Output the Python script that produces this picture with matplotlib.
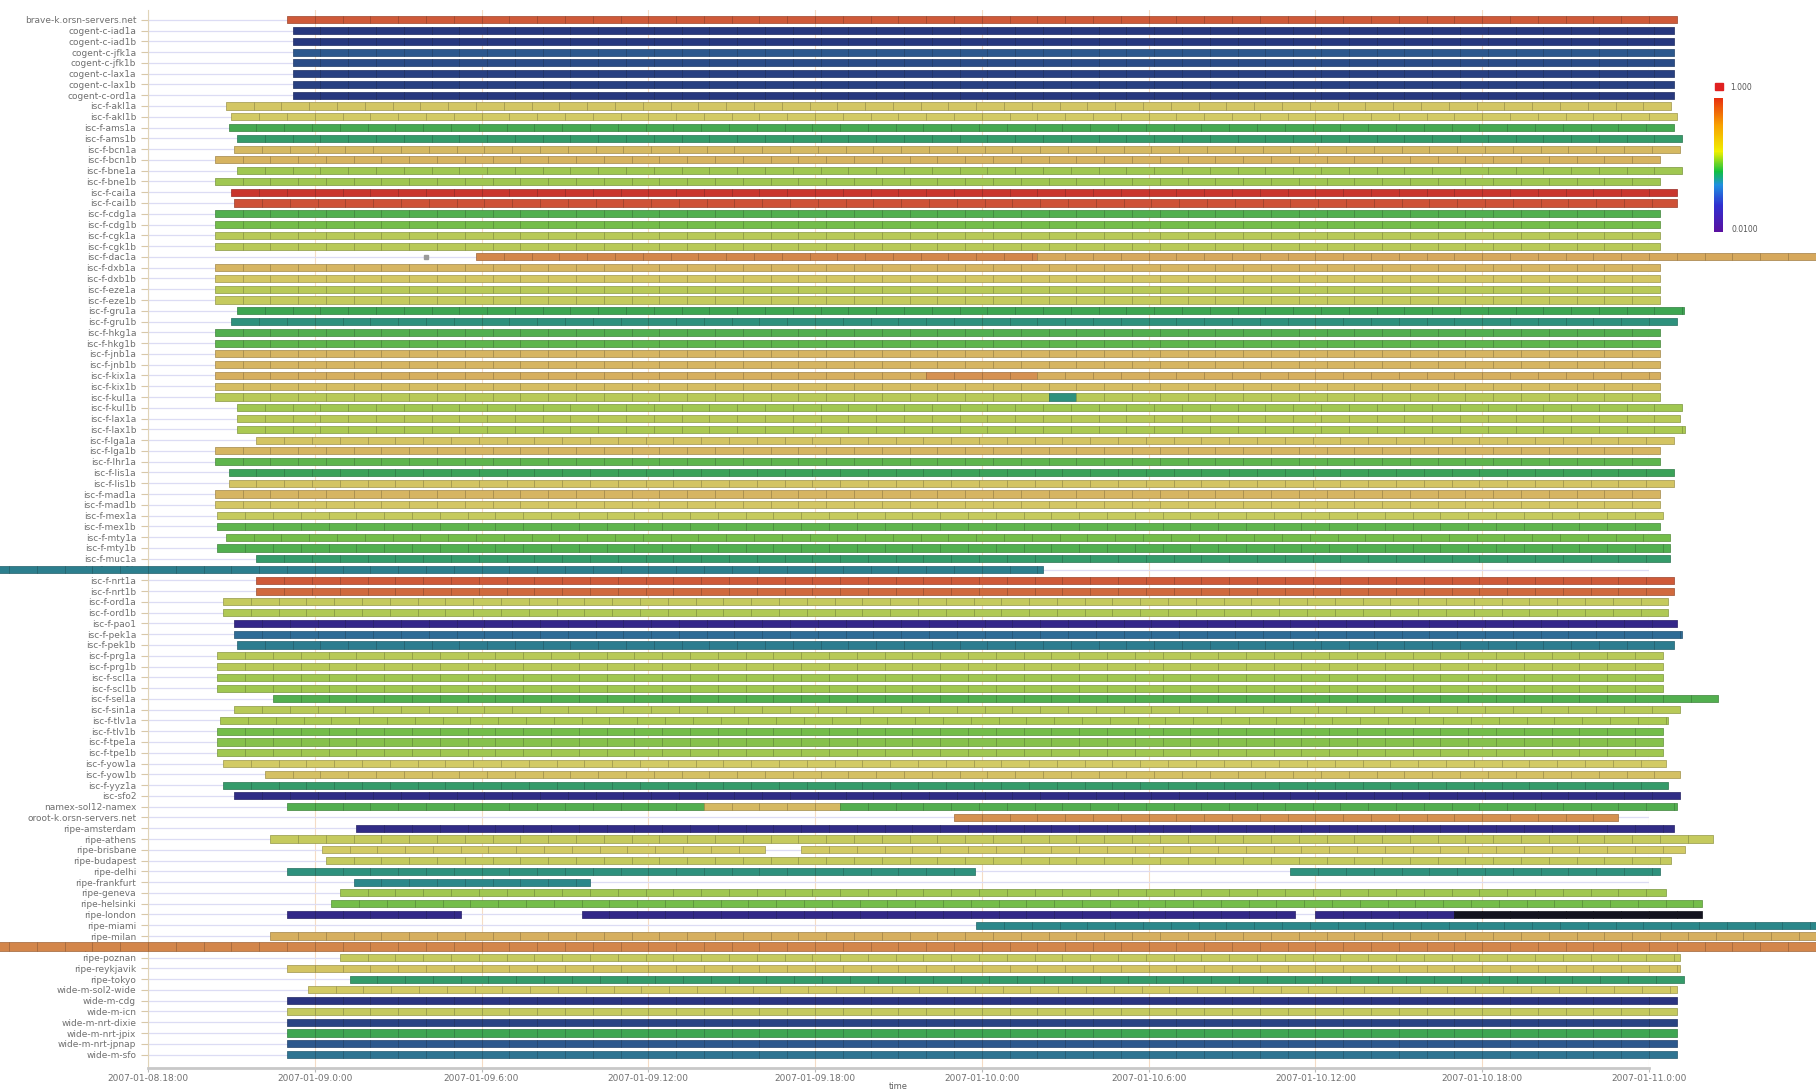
import numpy as np
import matplotlib
matplotlib.use("Agg")
import matplotlib.pyplot as plt
from matplotlib.colors import LinearSegmentedColormap, Normalize, to_rgb
from matplotlib.cm import ScalarMappable
from matplotlib.patches import Rectangle

# ===============================
# Data: hours relative to 2007-01-09 00:00
# ===============================
sites = [
    "brave-k.orsn-servers.net",
    "cogent-c-iad1a", "cogent-c-iad1b", "cogent-c-jfk1a", "cogent-c-jfk1b",
    "cogent-c-lax1a", "cogent-c-lax1b", "cogent-c-ord1a",
    "isc-f-akl1a", "isc-f-akl1b", "isc-f-ams1a", "isc-f-ams1b",
    "isc-f-bcn1a", "isc-f-bcn1b", "isc-f-bne1a", "isc-f-bne1b",
    "isc-f-cai1a", "isc-f-cai1b", "isc-f-cdg1a", "isc-f-cdg1b",
    "isc-f-cgk1a", "isc-f-cgk1b", "isc-f-dac1a", "isc-f-dxb1a",
    "isc-f-dxb1b", "isc-f-eze1a", "isc-f-eze1b", "isc-f-gru1a",
    "isc-f-gru1b", "isc-f-hkg1a", "isc-f-hkg1b", "isc-f-jnb1a",
    "isc-f-jnb1b", "isc-f-kix1a", "isc-f-kix1b", "isc-f-kul1a",
    "isc-f-kul1b", "isc-f-lax1a", "isc-f-lax1b", "isc-f-lga1a",
    "isc-f-lga1b", "isc-f-lhr1a", "isc-f-lis1a", "isc-f-lis1b",
    "isc-f-mad1a", "isc-f-mad1b", "isc-f-mex1a", "isc-f-mex1b",
    "isc-f-mty1a", "isc-f-mty1b", "isc-f-muc1a", "isc-f-muc1b",
    "isc-f-nrt1a", "isc-f-nrt1b", "isc-f-ord1a", "isc-f-ord1b",
    "isc-f-pao1", "isc-f-pek1a", "isc-f-pek1b", "isc-f-prg1a",
    "isc-f-prg1b", "isc-f-scl1a", "isc-f-scl1b", "isc-f-sel1a",
    "isc-f-sin1a", "isc-f-tlv1a", "isc-f-tlv1b", "isc-f-tpe1a",
    "isc-f-tpe1b", "isc-f-yow1a", "isc-f-yow1b", "isc-f-yyz1a",
    "isc-sfo2", "namex-sol12-namex", "oroot-k.orsn-servers.net",
    "ripe-amsterdam", "ripe-athens", "ripe-brisbane", "ripe-budapest",
    "ripe-delhi", "ripe-frankfurt", "ripe-geneva", "ripe-helsinki",
    "ripe-london", "ripe-miami", "ripe-milan", "ripe-moscow",
    "ripe-poznan", "ripe-reykjavik", "ripe-tokyo",
    "wide-m-sol2-wide", "wide-m-cdg", "wide-m-icn", "wide-m-nrt-dixie",
    "wide-m-nrt-jpix", "wide-m-nrt-jpnap", "wide-m-sfo",
]

# (start hour, end hour, value) per site; value -1 = below scale (black)
spans = [
    [(-1.0, 49.0, 0.88)],
    [(-0.8, 48.9, 0.12)], [(-0.8, 48.9, 0.12)], [(-0.8, 48.9, 0.2)],
    [(-0.8, 48.9, 0.17)], [(-0.8, 48.9, 0.14)], [(-0.8, 48.9, 0.14)],
    [(-0.8, 48.9, 0.12)],
    [(-3.2, 48.8, 0.63)], [(-3.0, 49.0, 0.62)], [(-3.1, 48.9, 0.43)],
    [(-2.8, 49.2, 0.38)],
    [(-2.9, 49.1, 0.67)], [(-3.6, 48.4, 0.69)], [(-2.8, 49.2, 0.55)],
    [(-3.6, 48.4, 0.55)],
    [(-3.0, 49.0, 0.96)], [(-2.9, 49.0, 0.9)], [(-3.6, 48.4, 0.45)],
    [(-3.6, 48.4, 0.5)],
    [(-3.6, 48.4, 0.58)], [(-3.6, 48.4, 0.58)],
    [(5.8, 26.0, 0.8), (26.0, 56.0, 0.72)],
    [(-3.6, 48.4, 0.68)],
    [(-3.6, 48.4, 0.63)], [(-3.6, 48.4, 0.58)], [(-3.6, 48.4, 0.6)],
    [(-2.8, 49.25, 0.42)],
    [(-3.0, 49.0, 0.35)], [(-3.6, 48.4, 0.45)], [(-3.6, 48.4, 0.47)],
    [(-3.6, 48.4, 0.68)],
    [(-3.6, 48.4, 0.68)], [(-3.6, 22.0, 0.7), (22.0, 26.0, 0.78), (26.0, 48.4, 0.7)],
    [(-3.6, 48.4, 0.66)],
    [(-3.6, 26.4, 0.58), (26.4, 27.4, 0.35), (27.4, 48.4, 0.58)],
    [(-2.8, 49.2, 0.55)], [(-2.8, 49.1, 0.58)], [(-2.8, 49.3, 0.56)],
    [(-2.1, 48.9, 0.64)],
    [(-3.6, 48.4, 0.68)], [(-3.6, 48.4, 0.47)], [(-3.1, 48.9, 0.41)],
    [(-3.1, 48.9, 0.64)],
    [(-3.6, 48.4, 0.68)], [(-3.6, 48.4, 0.63)], [(-3.5, 48.5, 0.6)],
    [(-3.5, 48.4, 0.47)],
    [(-3.2, 48.75, 0.5)], [(-3.5, 48.75, 0.45)], [(-2.1, 48.75, 0.38)],
    [(-12.0, 26.2, 0.3)],
    [(-2.1, 48.9, 0.88)], [(-2.1, 48.9, 0.85)], [(-3.3, 48.7, 0.6)],
    [(-3.3, 48.7, 0.57)],
    [(-2.9, 49.0, 0.04)], [(-2.9, 49.2, 0.25)], [(-2.8, 48.9, 0.29)],
    [(-3.5, 48.5, 0.58)],
    [(-3.5, 48.5, 0.58)], [(-3.5, 48.5, 0.55)], [(-3.5, 48.5, 0.55)],
    [(-1.5, 50.5, 0.45)],
    [(-2.9, 49.1, 0.58)], [(-3.4, 48.7, 0.56)], [(-3.5, 48.5, 0.5)],
    [(-3.5, 48.5, 0.52)],
    [(-3.5, 48.5, 0.55)], [(-3.3, 48.6, 0.62)], [(-1.8, 49.1, 0.65)],
    [(-3.3, 48.7, 0.38)],
    [(-2.9, 49.1, 0.07)],
    [(-1.0, 14.0, 0.45), (14.0, 18.9, 0.67), (18.9, 49.0, 0.45)],
    [(23.0, 46.9, 0.78)],
    [(1.5, 48.9, 0.06)], [(-1.6, 50.3, 0.6)],
    [(0.25, 16.2, 0.62), (17.5, 49.3, 0.62)],
    [(0.4, 48.8, 0.6)],
    [(-1.0, 23.75, 0.35), (35.1, 48.4, 0.35)],
    [(1.4, 9.9, 0.32)], [(0.9, 48.6, 0.55)], [(0.6, 49.9, 0.5)],
    [(-1.0, 5.25, 0.05), (9.6, 35.25, 0.05), (36.0, 41.0, 0.05), (41.0, 49.9, -1)],
    [(23.8, 56.0, 0.32)], [(-1.6, 56.0, 0.7)], [(-12.0, 56.0, 0.8)],
    [(0.9, 49.1, 0.6)], [(-1.0, 49.1, 0.64)], [(1.25, 49.25, 0.38)],
    [(-0.25, 49.0, 0.62)], [(-1.0, 49.0, 0.1)], [(-1.0, 49.0, 0.6)],
    [(-1.0, 49.0, 0.15)], [(-1.0, 49.0, 0.42)], [(-1.0, 49.0, 0.2)],
    [(-1.0, 49.0, 0.27)],
]

# isolated probe on isc-f-dac1a
dot_site = "isc-f-dac1a"
dot_hour = 4.0

tick_hours = [-6, 0, 6, 12, 18, 24, 30, 36, 42, 48]
tick_labels = ["2007-01-08.18:00", "2007-01-09.0:00", "2007-01-09.6:00",
               "2007-01-09.12:00", "2007-01-09.18:00", "2007-01-10.0:00",
               "2007-01-10.6:00", "2007-01-10.12:00", "2007-01-10.18:00",
               "2007-01-11.0:00"]

# muted palette for bars, vivid one for the legend bar
bar_cmap = LinearSegmentedColormap.from_list("bars", [
    (0.0, "#3b1f8e"), (0.12, "#27397e"), (0.25, "#2f6c96"), (0.33, "#2a8c88"),
    (0.42, "#3ea652"), (0.5, "#72bd4a"), (0.56, "#aac952"), (0.62, "#d2ca64"),
    (0.68, "#d6b662"), (0.76, "#d69c56"), (0.85, "#d06a3e"), (0.95, "#cc3a30"),
    (1.0, "#c02828")])
legend_cmap = LinearSegmentedColormap.from_list("legend", [
    (0.0, "#5a10a0"), (0.2, "#3030d0"), (0.35, "#2090e0"), (0.45, "#10c040"),
    (0.6, "#f0f000"), (0.8, "#f8a000"), (1.0, "#e83010")])
norm = Normalize(0, 1)

fig = plt.figure(figsize=(18.16, 10.91), dpi=100)
ax = fig.add_axes([0.0815, 0.0211, 0.8265, 0.9697])

n = len(sites)
for i, (name, segs) in enumerate(zip(sites, spans)):
    h = 0.82 if name == "ripe-moscow" else 0.66
    for s, e, v in segs:
        face = np.array(bar_cmap(norm(v))[:3]) if v >= 0 else np.array(to_rgb("#141420"))
        edge = face * 0.75
        pieces = [(t, min(1.0, e - t)) for t in np.arange(s, e, 1.0)]
        ax.broken_barh(pieces, (i - h / 2, h), facecolors=[face], edgecolors=[edge],
                       linewidth=0.5, clip_on=False, zorder=3)

ax.plot([dot_hour], [sites.index(dot_site)], marker="s", ms=3, color="#9a9a9a",
        zorder=3, clip_on=False)

ax.set_xlim(-6, 48)
ax.set_ylim(n - 1 + 1.24, -0.9)
ax.set_yticks(range(n))
ax.set_yticklabels(sites)
ax.set_xticks(tick_hours)
ax.set_xticklabels(tick_labels)
ax.tick_params(axis="y", labelsize=6.5, labelcolor="#707070", color="#d8c8a8", length=5, width=0.8)
ax.tick_params(axis="x", labelsize=6.5, labelcolor="#707070", color="#b8b8b8", length=3, width=0.8, pad=1.5)
ax.set_xlabel("time", fontsize=6, color="#606060", labelpad=-1)

ax.grid(True, axis="y", color="#dcdcf4", linewidth=0.9, zorder=0)
ax.grid(True, axis="x", color="#f5dcc5", linewidth=0.8, zorder=0)
ax.set_axisbelow(True)
for side in ("top", "right"):
    ax.spines[side].set_visible(False)
ax.spines["left"].set_color("#e0d4b8")
ax.spines["bottom"].set_color("#c8c8c8")
ax.spines["bottom"].set_linewidth(2)

# legend bar
cax = fig.add_axes([1714 / 1816, (1091 - 232) / 1091, 9 / 1816, 134 / 1091])
cb = fig.colorbar(ScalarMappable(norm=norm, cmap=legend_cmap), cax=cax)
cb.outline.set_visible(False)
cb.set_ticks([])
fig.add_artist(Rectangle((1715 / 1816, (1091 - 90) / 1091), 8 / 1816, 7 / 1091,
                         transform=fig.transFigure, color="#e02020"))
fig.text(1730 / 1816, (1091 - 87) / 1091, "1.000", fontsize=5.5, color="#555555", va="center")
fig.text(1731 / 1816, (1091 - 229) / 1091, "0.0100", fontsize=5.5, color="#555555", va="center")

fig.savefig("out.png", dpi=100)
